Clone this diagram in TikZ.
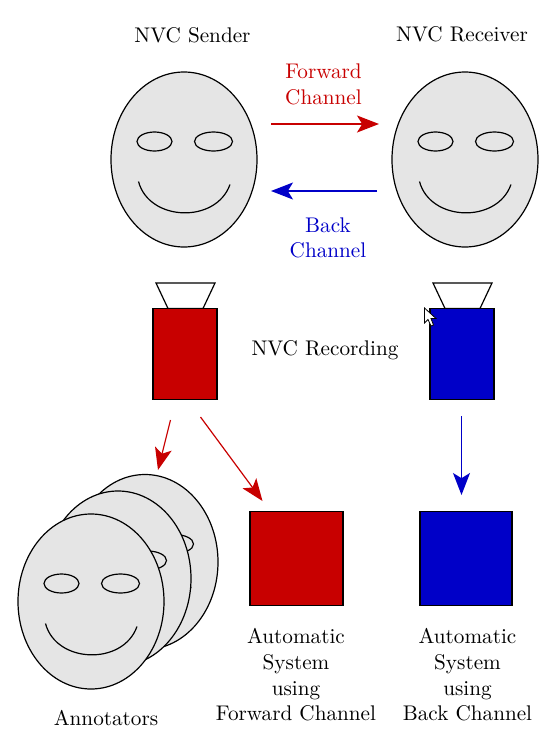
\documentclass[tikz,border=0pt]{standalone}
\usetikzlibrary{arrows.meta}
\definecolor{fwdred}{RGB}{200,0,0}
\definecolor{backblue}{RGB}{0,0,200}
\definecolor{facegray}{gray}{0.9}
\tikzset{
  lbl/.style={inner sep=0pt,align=center,font=\fontsize{10.6}{12.8}\selectfont},
  outline/.style={draw=black,line width=0.6pt},
  arrowline/.style={line width=0.6pt,-{Stealth[length=11pt,width=8.5pt,inset=2.6pt]}},
  facepic/.pic={
    \fill[facegray] (0,0) ellipse [x radius=73,y radius=87.5];
    \draw[outline] (0,0) ellipse [x radius=73,y radius=87.5];
    \draw[outline] (-29.5,-18) ellipse [x radius=17.5,y radius=9.5];
    \draw[outline] (29.5,-18) ellipse [x radius=19,y radius=9.5];
    \draw[outline] (-45.5,22) .. controls (-35,62) and (32,64.5) .. (46,25);
  },
  camerapic/.pic={
    \draw[outline,fill=white] (-29,-25.5) -- (30,-25.5) -- (18,0) -- (-17,0) -- cycle;
    \draw[outline,fill=#1] (-32,0) rectangle (32,91);
  }
}
\begin{document}
\begin{tikzpicture}[x=0.5pt,y=-0.5pt]
\useasboundingbox (0,0) rectangle (558,750);
\pic at (184,159.5) {facepic};
\pic at (465,159.5) {facepic};
\pic at (145,562) {facepic};
\pic at (118,578.5) {facepic};
\pic at (91,601.5) {facepic};
\pic at (185,308.5) {camerapic=fwdred};
\pic at (462,308.5) {camerapic=backblue};
\node[outline,fill=fwdred,minimum width=46.5pt,minimum height=47pt,inner sep=0pt] (sysF) at (296.5,558.3) {};
\node[outline,fill=backblue,minimum width=46pt,minimum height=47pt,inner sep=0pt] (sysB) at (466,558.3) {};
\node[lbl] (sender) at (192.5,35.5) {NVC Sender};
\node[lbl] (receiver) at (462,34.5) {NVC Receiver};
\node[lbl,text=fwdred] (fwd) at (323.5,84.5) {Forward\\Channel};
\node[lbl,text=backblue] (bck) at (328,238) {Back\\Channel};
\node[lbl] (rec) at (325,350.5) {NVC Recording};
\node[lbl] (autoF) at (296,675) {Automatic\\System\\using\\Forward Channel};
\node[lbl] (autoB) at (467.5,675) {Automatic\\System\\using\\Back Channel};
\node[lbl] (ann) at (106,718) {Annotators};
\coordinate (f1) at (271,124); \coordinate (f2) at (379,124);
\coordinate (b1) at (377,191); \coordinate (b2) at (271,191);
\coordinate (c1) at (170.5,420); \coordinate (c2) at (158,470);
\coordinate (d1) at (200.5,417); \coordinate (d2) at (262.5,501);
\coordinate (e1) at (461.5,416); \coordinate (e2) at (461.5,495);
\draw[arrowline,fwdred] (f1) -- (f2);
\draw[arrowline,backblue] (b1) -- (b2);
\draw[arrowline,fwdred] (c1) -- (c2);
\draw[arrowline,fwdred] (d1) -- (d2);
\draw[arrowline,backblue] (e1) -- (e2);
\draw[fill=white,draw=black,line width=0.4pt] (424.5,308) -- (424.5,323) -- (428,319.5) -- (431,326) -- (433.5,325) -- (431,318.5) -- (436,318.5) -- cycle;
\end{tikzpicture}
\end{document}
